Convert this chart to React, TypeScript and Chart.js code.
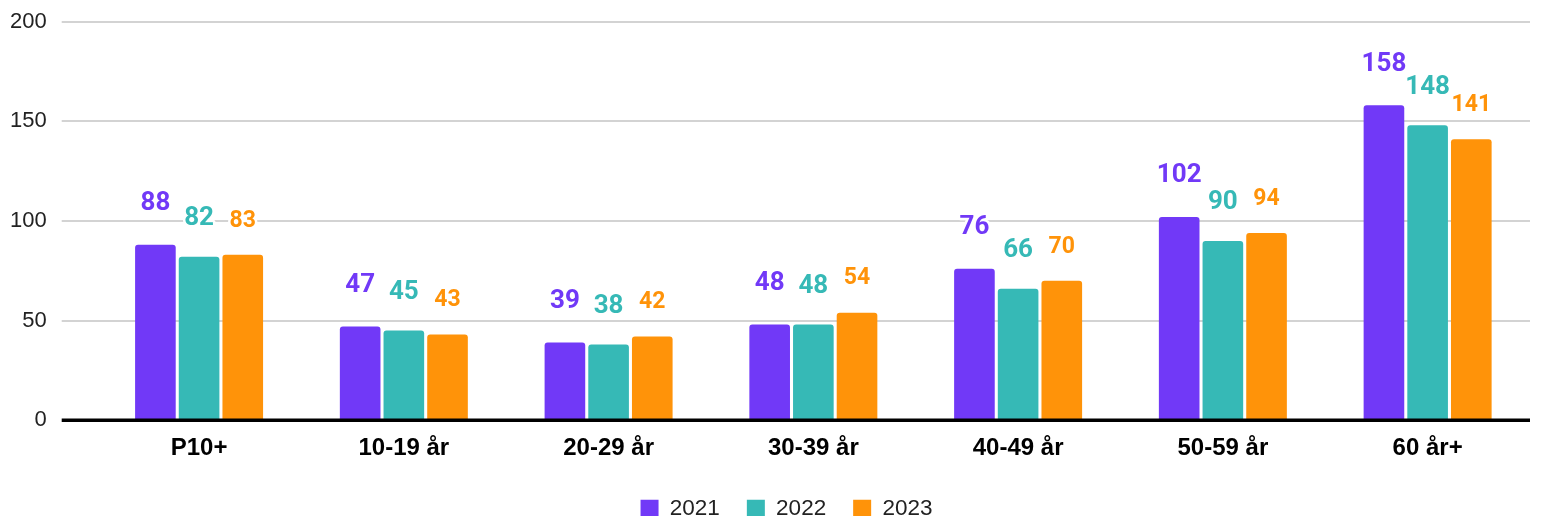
import React, { useEffect, useRef } from "react";
import { Chart, registerables } from "chart.js";

Chart.register(...registerables);

const categories = ["P10+", "10-19 år", "20-29 år", "30-39 år", "40-49 år", "50-59 år", "60 år+"];
const seriesNames = ["2021", "2022", "2023"];
const values2021 = [88, 47, 39, 48, 76, 102, 158];
const values2022 = [82, 45, 38, 48, 66, 90, 148];
const values2023 = [83, 43, 42, 54, 70, 94, 141];
const colors = ["#7139F7", "#36B9B6", "#FF9309"];
const labelSizes = [26, 26, 23];
const labelOffsets = [41, 38, 34];
const yTicks = [0, 50, 100, 150, 200];

const TICK_LEN = 35;

const valueLabelPlugin = {
  id: "valueLabels",
  afterDatasetsDraw(chart: any) {
    const ctx = chart.ctx;
    const y = chart.scales.y;
    const area = chart.chartArea;
    const y0 = y.getPixelForValue(0);
    ctx.save();
    ctx.strokeStyle = "#000";
    ctx.lineWidth = 3.5;
    ctx.beginPath();
    ctx.moveTo(area.left - TICK_LEN, y0);
    ctx.lineTo(area.right, y0);
    ctx.stroke();
    ctx.restore();

    chart.data.datasets.forEach((ds: any, di: number) => {
      const meta = chart.getDatasetMeta(di);
      meta.data.forEach((bar: any, i: number) => {
        const text = String(ds.data[i]);
        ctx.save();
        ctx.font = `bold ${labelSizes[di]}px Roboto, "Liberation Sans", sans-serif`;
        ctx.textAlign = "center";
        ctx.textBaseline = "middle";
        ctx.lineJoin = "round";
        ctx.lineWidth = 5;
        ctx.strokeStyle = "#ffffff";
        const ty = bar.y - labelOffsets[di];
        ctx.strokeText(text, bar.x, ty);
        ctx.fillStyle = colors[di];
        ctx.fillText(text, bar.x, ty);
        ctx.restore();
      });
    });
  },
};

const legendShiftPlugin = {
  id: "legendShift",
  afterLayout(chart: any) {
    const lg = chart.legend;
    if (lg) {
      lg.left += 24;
      lg.right += 24;
    }
  },
};

export default function App() {
  const ref = useRef<HTMLCanvasElement | null>(null);

  useEffect(() => {
    document.body.style.margin = "0";
    const canvas = ref.current;
    if (!canvas) return;
    const chart = new Chart(canvas, {
      type: "bar",
      data: {
        labels: categories,
        datasets: [values2021, values2022, values2023].map((d, i) => ({
          label: seriesNames[i],
          data: d,
          backgroundColor: colors[i],
          borderRadius: { topLeft: 3, topRight: 3, bottomLeft: 0, bottomRight: 0 },
          borderSkipped: "bottom",
          categoryPercentage: 0.64,
          barPercentage: 0.93,
        })),
      },
      options: {
        animation: false,
        responsive: false,
        devicePixelRatio: 1,
        layout: { padding: { left: -5, right: 16, top: 21, bottom: 0 } },
        plugins: {
          legend: {
            position: "bottom",
            labels: {
              boxWidth: 18,
              boxHeight: 18,
              padding: 27,
              color: "#222",
              font: { family: "'Liberation Sans', Arial, sans-serif", size: 22.5 },
            },
          },
          tooltip: { enabled: false },
        },
        scales: {
          x: {
            grid: { display: false, drawTicks: false },
            border: { display: false },
            ticks: {
              padding: 14,
              color: "#000",
              font: { family: "'Liberation Sans', Arial, sans-serif", size: 24, weight: "bold" },
            },
            afterFit(scale: any) {
              scale.height -= 6.6;
            },
          },
          y: {
            min: 0,
            max: 200,
            afterBuildTicks(scale: any) {
              scale.ticks = yTicks.map((v) => ({ value: v }));
            },
            border: { display: false },
            grid: {
              color: (c: any) => (c.tick && c.tick.value === 0 ? "rgba(0,0,0,0)" : "#d3d3d3"),
              lineWidth: 2,
              tickLength: TICK_LEN,
              drawTicks: true,
            },
            ticks: {
              padding: 15,
              color: "#222",
              font: { family: "'Liberation Sans', Arial, sans-serif", size: 22, lineHeight: 0.6 },
            },
          },
        },
      },
      plugins: [valueLabelPlugin, legendShiftPlugin],
    } as any);
    return () => chart.destroy();
  }, []);

  return (
    <div style={{ position: "absolute", left: 0, top: 0, width: 1546, height: 516, overflow: "hidden", background: "#fff" }}>
      <canvas ref={ref} width={1546} height={530} style={{ display: "block" }} />
    </div>
  );
}
